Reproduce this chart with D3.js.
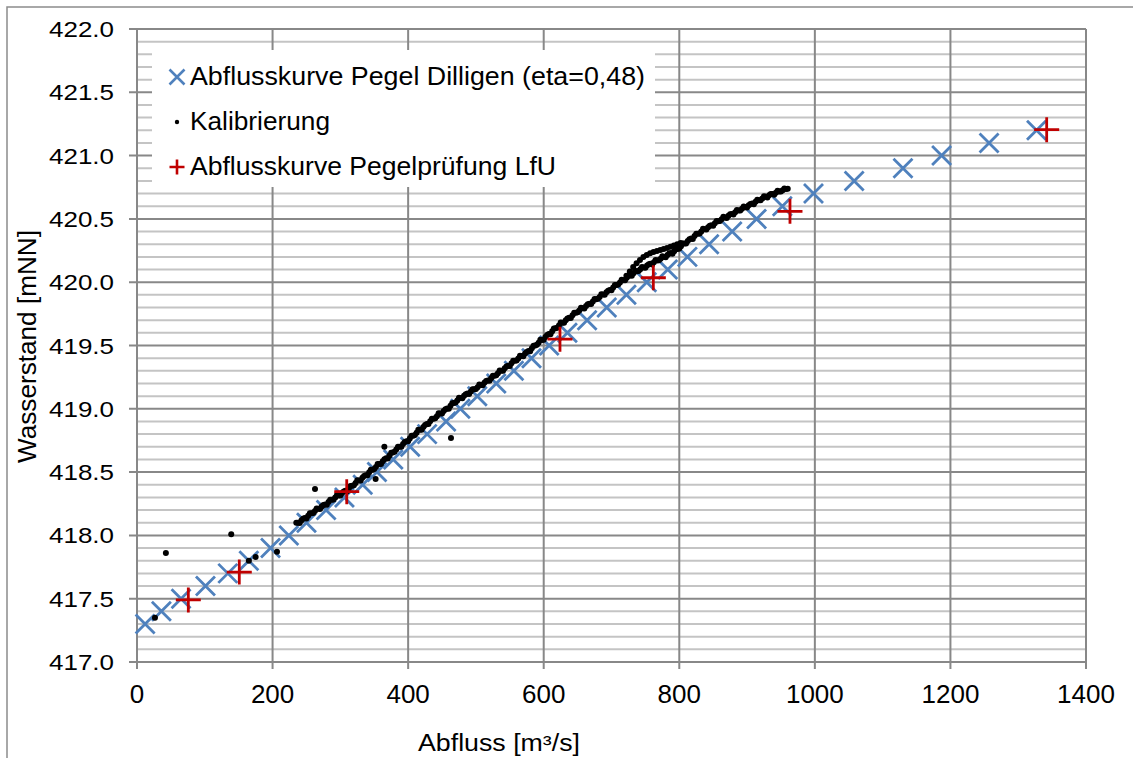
<!DOCTYPE html>
<html><head><meta charset="utf-8">
<script src="https://cdn.jsdelivr.net/npm/d3@7"></script>
<style>
body{margin:0;background:#fff}
svg text{font-family:"Liberation Sans",Arial,sans-serif;fill:#000}
</style>
</head><body>
<svg id="chart" width="1133" height="758"></svg>
<script>
// ---------------- data ----------------
const xTickValues = [0,200,400,600,800,1000,1200,1400];
const yTickValues = [417.0,417.5,418.0,418.5,419.0,419.5,420.0,420.5,421.0,421.5,422.0];

// Abflusskurve Pegel Dilligen (eta=0,48)
const pegelH = [417.3,417.4,417.5,417.6,417.7,417.8,417.9,418.0,418.1,418.2,418.3,418.4,418.5,418.6,418.7,418.8,418.9,419.0,419.1,419.2,419.3,419.4,419.5,419.6,419.7,419.8,419.9,420.0,420.1,420.2,420.3,420.4,420.5,420.6,420.7,420.8,420.9,421.0,421.1,421.2];
const pegelQ = [12,36,65,101,134,165,197,224,250,279,306,333,354,378,403,428,456,477,502,530,556,582,608,635,664,693,722,752,783,812,844,878,914,952,998,1058,1130,1187,1257,1327];

// Abflusskurve Pegelprüfung LfU
const lfuQ = [75.7,150.9,309.4,624,761.7,963.3,1342];
const lfuH = [417.49,417.71,418.345,419.55,420.035,420.56,421.205];

// Kalibrierung: isolated points
const kalibOutliers = [
[26.5,417.35],[42.6,417.86],[139,418.01],[165,417.80],[175,417.83],[206.5,417.87],[262.6,418.367],[352,418.445],[364.9,418.70],[463.2,418.77]
];
// Kalibrierung: dense band (Q, H)
const kalibBand = [
[235,418.100],[240,418.098],[245,418.131],[250,418.134],[255,418.174],[260,418.177],[265,418.213],[270,418.209],[275,418.240],[280,418.242],
[285,418.282],[290,418.284],[295,418.319],[300,418.315],[305,418.347],[310,418.348],[315,418.391],[320,418.396],[325,418.435],[330,418.434],
[335,418.469],[340,418.475],[345,418.518],[350,418.524],[355,418.564],[360,418.564],[365,418.601],[370,418.608],[375,418.653],[380,418.660],
[385,418.701],[390,418.701],[395,418.737],[400,418.743],[405,418.787],[410,418.793],[415,418.834],[420,418.835],[425,418.872],[430,418.879],
[435,418.922],[440,418.926],[445,418.964],[450,418.962],[455,418.996],[460,419.001],[465,419.044],[470,419.049],[475,419.088],[480,419.084],
[485,419.115],[490,419.116],[495,419.155],[500,419.156],[505,419.191],[510,419.187],[515,419.219],[520,419.221],[525,419.261],[530,419.265],
[535,419.303],[540,419.301],[545,419.335],[550,419.338],[555,419.379],[560,419.382],[565,419.419],[570,419.416],[575,419.449],[580,419.455],
[585,419.499],[590,419.505],[595,419.545],[600,419.545],[605,419.582],[610,419.589],[615,419.634],[620,419.641],[625,419.681],[630,419.679],
[635,419.713],[640,419.717],[645,419.759],[650,419.762],[655,419.798],[660,419.793],[665,419.825],[670,419.827],[675,419.867],[680,419.869],
[685,419.905],[690,419.901],[695,419.933],[700,419.936],[705,419.978],[710,419.982],[715,420.019],[720,420.015],[725,420.048],[730,420.051],
[735,420.089],[740,420.088],[745,420.121],[750,420.114],[755,420.142],[760,420.139],[765,420.175],[770,420.173],[775,420.205],[780,420.197],
[785,420.226],[790,420.225],[795,420.262],[800,420.266],[805,420.306],[810,420.306],[815,420.339],[820,420.342],[825,420.383],[830,420.385],
[835,420.422],[840,420.416],[845,420.446],[850,420.446],[855,420.484],[860,420.484],[865,420.516],[870,420.508],[875,420.536],[880,420.534],
[885,420.570],[890,420.567],[895,420.598],[900,420.590],[905,420.618],[910,420.616],[915,420.651],[920,420.648],[925,420.679],[930,420.670],
[935,420.696],[940,420.690],[945,420.722],[950,420.716],[955,420.740],[960,420.738],
[237.5,418.099],[242.5,418.118],[247.5,418.137],[252.5,418.155],[257.5,418.174],[262.5,418.192],[267.5,418.210],[272.5,418.228],[277.5,418.245],[282.5,418.263],
[287.5,418.281],[292.5,418.299],[297.5,418.316],[302.5,418.334],[307.5,418.352],[312.5,418.371],[317.5,418.392],[322.5,418.413],[327.5,418.434],[332.5,418.455],
[337.5,418.476],[342.5,418.498],[347.5,418.519],[352.5,418.541],[357.5,418.563],[362.5,418.586],[367.5,418.609],[372.5,418.632],[377.5,418.655],[382.5,418.678],
[387.5,418.700],[392.5,418.722],[397.5,418.744],[402.5,418.766],[407.5,418.788],[412.5,418.811],[417.5,418.834],[422.5,418.857],[427.5,418.880],[432.5,418.902],
[437.5,418.922],[442.5,418.942],[447.5,418.962],[452.5,418.982],[457.5,419.003],[462.5,419.024],[467.5,419.045],[472.5,419.066],[477.5,419.085],[482.5,419.103],
[487.5,419.120],[492.5,419.137],[497.5,419.154],[502.5,419.171],[507.5,419.188],[512.5,419.206],[517.5,419.224],[522.5,419.242],[527.5,419.261],[532.5,419.281],
[537.5,419.301],[542.5,419.321],[547.5,419.341],[552.5,419.360],[557.5,419.379],[562.5,419.398],[567.5,419.417],[572.5,419.436],[577.5,419.456],[582.5,419.478],
[587.5,419.500],[592.5,419.522],[597.5,419.544],[602.5,419.567],[607.5,419.590],[612.5,419.613],[617.5,419.636],[622.5,419.658],[627.5,419.679],[632.5,419.699],
[637.5,419.719],[642.5,419.739],[647.5,419.759],[652.5,419.777],[657.5,419.795],[662.5,419.812],[667.5,419.830],[672.5,419.848],[677.5,419.866],[682.5,419.884],
[687.5,419.902],[692.5,419.920],[697.5,419.939],[702.5,419.958],[707.5,419.978],[712.5,419.998],[717.5,420.016],[722.5,420.035],[727.5,420.054],[732.5,420.071],
[737.5,420.087],[742.5,420.102],[747.5,420.117],[752.5,420.131],[757.5,420.145],[762.5,420.158],[767.5,420.172],[772.5,420.186],[777.5,420.200],[782.5,420.215],
[787.5,420.230],[792.5,420.245],[797.5,420.262],[802.5,420.283],[807.5,420.305],[812.5,420.326],[817.5,420.345],[822.5,420.364],[827.5,420.382],[832.5,420.400],
[837.5,420.418],[842.5,420.434],[847.5,420.450],[852.5,420.466],[857.5,420.482],[862.5,420.497],[867.5,420.511],[872.5,420.525],[877.5,420.539],[882.5,420.553],
[887.5,420.567],[892.5,420.580],[897.5,420.593],[902.5,420.607],[907.5,420.621],[912.5,420.635],[917.5,420.648],[922.5,420.661],[927.5,420.674],[932.5,420.686],
[937.5,420.697],[942.5,420.707],[947.5,420.717],[952.5,420.727],[957.5,420.737]
];
// Kalibrierung: upper strand near 420.1–420.3
const kalibUpper = [
[722,420.050],[727,420.085],[732,420.120],[737,420.150],[742,420.175],[747,420.200],[752,420.215],[757,420.228],[762,420.238],[767,420.246],
[772,420.254],[777,420.262],[782,420.270],[787,420.280],[792,420.290],[797,420.300],[802,420.310]
];

const legendLabels = ["Abflusskurve Pegel Dilligen (eta=0,48)","Kalibrierung","Abflusskurve Pegelprüfung LfU"];
const xTitle = "Abfluss [m³/s]";
const yTitle = "Wasserstand [mNN]";

// ---------------- drawing ----------------
const svg = d3.select("#chart");
const x = d3.scaleLinear().domain([0,1400]).range([137,1086]);
const y = d3.scaleLinear().domain([417,422]).range([662,29]);

const blue = "#4F81BD", red = "#C00000";
const majorCol = "#888888", minorCol = "#c4c4c4";

// outer chart frame
svg.append("rect").attr("x",7).attr("y",7).attr("width",1150).attr("height",800)
  .attr("fill","#fff").attr("stroke","#8c8c8c").attr("stroke-width",1.5);

// minor horizontal gridlines
const minorY = d3.range(4170,4221,1).map(v=>v/10).filter(v=>Math.round(v*10)%5!==0);
svg.append("g").selectAll("line").data(minorY).join("line")
  .attr("x1",x(0)).attr("x2",x(1400))
  .attr("y1",d=>y(d)).attr("y2",d=>y(d))
  .attr("stroke",minorCol).attr("stroke-width",2);

// major horizontal gridlines (with ticks to the left)
svg.append("g").selectAll("line").data(yTickValues).join("line")
  .attr("x1",x(0)-8).attr("x2",x(1400))
  .attr("y1",d=>y(d)).attr("y2",d=>y(d))
  .attr("stroke",majorCol).attr("stroke-width",2);

// vertical gridlines (with ticks below)
svg.append("g").selectAll("line").data(xTickValues).join("line")
  .attr("x1",d=>x(d)).attr("x2",d=>x(d))
  .attr("y1",y(422)).attr("y2",y(417)+7)
  .attr("stroke",majorCol).attr("stroke-width",2);

// y tick labels
svg.append("g").selectAll("text").data(yTickValues).join("text")
  .attr("x",114).attr("y",d=>y(d)+8)
  .attr("text-anchor","end").attr("font-size",22)
  .attr("textLength",65).attr("lengthAdjust","spacingAndGlyphs")
  .text(d=>d3.format(".1f")(d));

// x tick labels
svg.append("g").selectAll("text").data(xTickValues).join("text")
  .attr("x",d=>x(d)).attr("y",703)
  .attr("text-anchor","middle").attr("font-size",26)
  .text(d=>d);

// axis titles
svg.append("text").attr("x",499).attr("y",751).attr("text-anchor","middle")
  .attr("font-size",23).attr("textLength",162).attr("lengthAdjust","spacingAndGlyphs").text(xTitle);
svg.append("text").attr("transform","translate(36,346.5) rotate(-90)")
  .attr("text-anchor","middle").attr("font-size",25)
  .attr("textLength",233).attr("lengthAdjust","spacingAndGlyphs").text(yTitle);

// marker shapes
function xPath(s){return `M${-s},${-s}L${s},${s}M${-s},${s}L${s},${-s}`;}
function plusPath(s){return `M${-s},0L${s},0M0,${-s}L0,${s}`;}

// Pegel Dilligen X markers
svg.append("g").selectAll("path").data(pegelQ.map((q,i)=>[q,pegelH[i]])).join("path")
  .attr("transform",d=>`translate(${x(d[0])},${y(d[1])})`)
  .attr("d",xPath(9.5)).attr("fill","none").attr("stroke",blue).attr("stroke-width",2.8);

// Kalibrierung dots
const kalib = kalibOutliers.concat(kalibBand, kalibUpper);
svg.append("g").selectAll("circle").data(kalib).join("circle")
  .attr("cx",d=>x(d[0])).attr("cy",d=>y(d[1])).attr("r",3.0).attr("fill","#000");

// LfU plus markers
svg.append("g").selectAll("path").data(lfuQ.map((q,i)=>[q,lfuH[i]])).join("path")
  .attr("transform",d=>`translate(${x(d[0])},${y(d[1])})`)
  .attr("d",plusPath(12.5)).attr("fill","none").attr("stroke",red).attr("stroke-width",2.8);

// legend
const lg = svg.append("g");
lg.append("rect").attr("x",152).attr("y",50).attr("width",503).attr("height",137).attr("fill","#fff");
const rowsY = [77,122,167];
lg.append("path").attr("transform",`translate(177,${rowsY[0]})`).attr("d",xPath(7.5))
  .attr("stroke",blue).attr("stroke-width",2.6).attr("fill","none");
lg.append("circle").attr("cx",177).attr("cy",rowsY[1]).attr("r",2.2).attr("fill","#000");
lg.append("path").attr("transform",`translate(177,${rowsY[2]})`).attr("d",plusPath(7.5))
  .attr("stroke",red).attr("stroke-width",2.6).attr("fill","none");
const lgWidths = [455,140,366];
lg.selectAll("text").data(legendLabels).join("text")
  .attr("x",190).attr("y",(d,i)=>rowsY[i]+8)
  .attr("font-size",25).attr("textLength",(d,i)=>lgWidths[i]).attr("lengthAdjust","spacingAndGlyphs")
  .text(d=>d);
</script>
</body></html>
